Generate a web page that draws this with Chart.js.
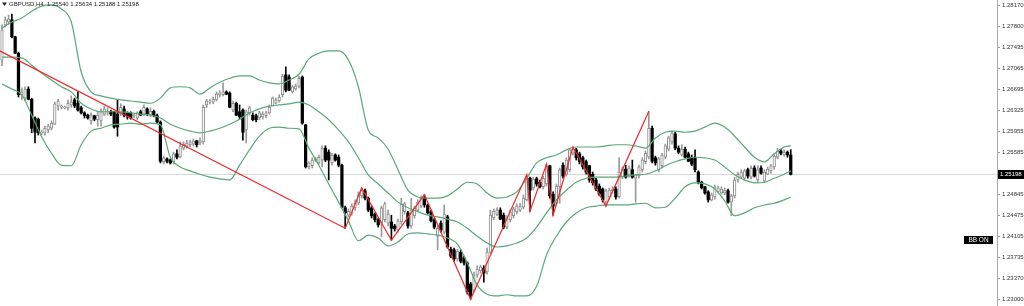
<!DOCTYPE html>
<html>
<head>
<meta charset="utf-8">
<script src="https://cdn.jsdelivr.net/npm/chart.js@4.4.1/dist/chart.umd.min.js"></script>
<style>
  html, body { margin: 0; padding: 0; background: #fff; }
  #wrap { width: 1024px; height: 306px; position: relative; }
</style>
</head>
<body>
<div id="wrap"><canvas id="chart"></canvas></div>
<script>
const symbol = 'GBPUSD,H4';

// H4 candles, oldest first (index = bar number from left edge)
const candleOpen = [
  1.2721,1.2783,1.2788,1.2792,1.2762,1.2733,1.2660,1.2654,1.2670,1.2652,
  1.2619,1.2617,1.2593,1.2593,1.2598,1.2601,1.2608,1.2640,1.2638,1.2637,
  1.2637,1.2642,1.2651,1.2645,1.2637,1.2628,1.2624,1.2614,1.2623,1.2616,
  1.2614,1.2626,1.2630,1.2631,1.2630,1.2626,1.2626,1.2635,1.2628,1.2628,
  1.2623,1.2619,1.2630,1.2626,1.2635,1.2624,1.2631,1.2623,1.2612,1.2542,
  1.2547,1.2545,1.2542,1.2556,1.2550,1.2566,1.2570,1.2572,1.2573,1.2579,
  1.2575,1.2577,1.2642,1.2647,1.2647,1.2651,1.2660,1.2660,1.2665,1.2663,
  1.2633,1.2645,1.2630,1.2633,1.2598,1.2628,1.2624,1.2623,1.2619,1.2621,
  1.2623,1.2628,1.2640,1.2645,1.2649,1.2660,1.2695,1.2691,1.2665,1.2670,
  1.2675,1.2691,1.2607,1.2533,1.2535,1.2545,1.2540,1.2545,1.2566,1.2559,
  1.2540,1.2554,1.2550,1.2536,1.2461,1.2448,1.2452,1.2461,1.2469,1.2482,
  1.2491,1.2478,1.2461,1.2450,1.2440,1.2434,1.2440,1.2434,1.2436,1.2429,
  1.2422,1.2436,1.2454,1.2452,1.2429,1.2447,1.2457,1.2464,1.2478,1.2466,
  1.2454,1.2440,1.2411,1.2434,1.2418,1.2445,1.2388,1.2387,1.2371,1.2383,
  1.2373,1.2364,1.2327,1.2316,1.2343,1.2350,1.2355,1.2348,1.2383,1.2443,
  1.2450,1.2457,1.2448,1.2427,1.2440,1.2447,1.2454,1.2457,1.2462,1.2475,
  1.2513,1.2496,1.2512,1.2506,1.2498,1.2503,1.2535,1.2485,1.2469,1.2498,
  1.2536,1.2520,1.2528,1.2557,1.2563,1.2556,1.2549,1.2542,1.2535,1.2520,
  1.2510,1.2499,1.2494,1.2471,1.2480,1.2491,1.2494,1.2480,1.2515,1.2529,
  1.2519,1.2528,1.2513,1.2517,1.2528,1.2542,1.2550,1.2601,1.2549,1.2528,
  1.2535,1.2550,1.2564,1.2577,1.2591,1.2566,1.2554,1.2564,1.2556,1.2550,
  1.2550,1.2524,1.2506,1.2498,1.2489,1.2475,1.2480,1.2489,1.2487,1.2487,
  1.2491,1.2471,1.2482,1.2510,1.2515,1.2513,1.2528,1.2515,1.2531,1.2510,
  1.2531,1.2508,1.2520,1.2526,1.2533,1.2550,1.2561,1.2554,1.2559,1.25540
];
const candleHigh = [
  1.2783,1.2797,1.2800,1.2802,1.2763,1.2735,1.2672,1.2674,1.2674,1.2654,
  1.2621,1.2619,1.2598,1.2605,1.2608,1.2614,1.2647,1.2652,1.2642,1.2640,
  1.2651,1.2658,1.2654,1.2665,1.2640,1.2630,1.2626,1.2628,1.2624,1.2630,
  1.2635,1.2640,1.2637,1.2633,1.2631,1.2651,1.2644,1.2640,1.2630,1.2630,
  1.2626,1.2630,1.2633,1.2642,1.2637,1.2637,1.2633,1.2626,1.2614,1.2552,
  1.2549,1.2547,1.2559,1.2563,1.2577,1.2577,1.2580,1.2580,1.2582,1.2580,
  1.2584,1.2642,1.2652,1.2652,1.2656,1.2665,1.2667,1.2681,1.2667,1.2665,
  1.2649,1.2647,1.2642,1.2635,1.2633,1.2640,1.2628,1.2626,1.2631,1.2630,
  1.2631,1.2642,1.2656,1.2654,1.2660,1.2696,1.2709,1.2695,1.2677,1.2679,
  1.2693,1.2693,1.2608,1.2542,1.2549,1.2550,1.2554,1.2570,1.2570,1.2563,
  1.2557,1.2556,1.2554,1.2538,1.2464,1.2459,1.2468,1.2475,1.2489,1.2496,
  1.2494,1.2480,1.2464,1.2452,1.2443,1.2464,1.2471,1.2457,1.2448,1.2432,
  1.2441,1.2478,1.2471,1.2455,1.2478,1.2464,1.2475,1.2482,1.2484,1.2468,
  1.2457,1.2443,1.2429,1.2438,1.2466,1.2448,1.2392,1.2390,1.2388,1.2387,
  1.2376,1.2366,1.2330,1.2348,1.2359,1.2360,1.2359,1.2390,1.2457,1.2459,
  1.2461,1.2461,1.2452,1.2447,1.2457,1.2462,1.2468,1.2469,1.2484,1.2519,
  1.2515,1.2515,1.2515,1.2510,1.2517,1.2538,1.2536,1.2489,1.2503,1.2531,
  1.2540,1.2549,1.2566,1.2568,1.2566,1.2559,1.2552,1.2545,1.2536,1.2524,
  1.2513,1.2503,1.2496,1.2494,1.2496,1.2498,1.2498,1.2549,1.2533,1.2536,
  1.2535,1.2545,1.2520,1.2536,1.2549,1.2561,1.2631,1.2605,1.2552,1.2550,
  1.2557,1.2573,1.2587,1.2596,1.2594,1.2570,1.2572,1.2568,1.2559,1.2554,
  1.2563,1.2526,1.2508,1.2499,1.2491,1.2487,1.2501,1.2499,1.2498,1.2496,
  1.2494,1.2485,1.2515,1.2524,1.2528,1.2529,1.2531,1.2535,1.2535,1.2535,
  1.2535,1.2528,1.2533,1.2538,1.2556,1.2566,1.2564,1.2563,1.2561,1.25634
];
const candleLow = [
  1.2711,1.2779,1.2784,1.2760,1.2732,1.2656,1.2651,1.2649,1.2651,1.2593,
  1.2575,1.2589,1.2589,1.2589,1.2593,1.2598,1.2607,1.2633,1.2635,1.2635,
  1.2633,1.2638,1.2637,1.2631,1.2626,1.2619,1.2617,1.2608,1.2614,1.2605,
  1.2605,1.2623,1.2624,1.2623,1.2601,1.2587,1.2623,1.2621,1.2617,1.2617,
  1.2619,1.2616,1.2623,1.2623,1.2623,1.2621,1.2621,1.2610,1.2540,1.2538,
  1.2540,1.2538,1.2538,1.2547,1.2549,1.2563,1.2566,1.2568,1.2570,1.2568,
  1.2572,1.2573,1.2637,1.2644,1.2644,1.2649,1.2656,1.2658,1.2660,1.2637,
  1.2630,1.2623,1.2617,1.2580,1.2575,1.2624,1.2614,1.2612,1.2616,1.2617,
  1.2619,1.2626,1.2642,1.2644,1.2647,1.2656,1.2665,1.2667,1.2663,1.2668,
  1.2672,1.2608,1.2531,1.2529,1.2531,1.2542,1.2538,1.2533,1.2542,1.2510,
  1.2536,1.2543,1.2533,1.2461,1.2425,1.2445,1.2448,1.2457,1.2466,1.2478,
  1.2475,1.2454,1.2443,1.2436,1.2427,1.2410,1.2436,1.2429,1.2404,1.2420,
  1.2418,1.2432,1.2450,1.2425,1.2425,1.2443,1.2454,1.2461,1.2462,1.2450,
  1.2436,1.2424,1.2387,1.2418,1.2415,1.2390,1.2373,1.2367,1.2367,1.2364,
  1.2360,1.2309,1.2300,1.2313,1.2339,1.2346,1.2330,1.2344,1.2380,1.2440,
  1.2447,1.2440,1.2424,1.2424,1.2436,1.2443,1.2450,1.2454,1.2459,1.2473,
  1.2455,1.2492,1.2499,1.2496,1.2494,1.2499,1.2478,1.2448,1.2466,1.2469,
  1.2513,1.2517,1.2524,1.2554,1.2545,1.2538,1.2529,1.2520,1.2506,1.2501,
  1.2491,1.2482,1.2471,1.2464,1.2476,1.2487,1.2476,1.2478,1.2512,1.2513,
  1.2515,1.2513,1.2471,1.2513,1.2524,1.2538,1.2547,1.2540,1.2536,1.2524,
  1.2531,1.2547,1.2561,1.2573,1.2563,1.2556,1.2552,1.2549,1.2542,1.2535,
  1.2524,1.2503,1.2494,1.2485,1.2471,1.2473,1.2476,1.2487,1.2485,1.2484,
  1.2469,1.2447,1.2478,1.2506,1.2512,1.2510,1.2513,1.2512,1.2515,1.2505,
  1.2520,1.2505,1.2519,1.2522,1.2529,1.2547,1.2554,1.2552,1.2550,1.25188
];
const candleClose = [
  1.2774,1.2792,1.2793,1.2762,1.2733,1.2660,1.2665,1.2670,1.2652,1.2601,
  1.2594,1.2593,1.2594,1.2601,1.2605,1.2610,1.2644,1.2649,1.2640,1.2638,
  1.2645,1.2647,1.2640,1.2633,1.2628,1.2623,1.2619,1.2624,1.2617,1.2624,
  1.2630,1.2635,1.2631,1.2626,1.2603,1.2603,1.2638,1.2624,1.2621,1.2619,
  1.2624,1.2628,1.2624,1.2638,1.2626,1.2631,1.2623,1.2612,1.2543,1.2549,
  1.2543,1.2540,1.2556,1.2550,1.2570,1.2573,1.2575,1.2577,1.2579,1.2572,
  1.2579,1.2638,1.2649,1.2649,1.2652,1.2661,1.2663,1.2665,1.2661,1.2638,
  1.2645,1.2624,1.2621,1.2594,1.2630,1.2637,1.2616,1.2616,1.2628,1.2626,
  1.2628,1.2638,1.2654,1.2651,1.2656,1.2693,1.2668,1.2668,1.2674,1.2675,
  1.2689,1.2610,1.2533,1.2540,1.2545,1.2547,1.2550,1.2566,1.2545,1.2545,
  1.2554,1.2545,1.2536,1.2462,1.2452,1.2455,1.2464,1.2469,1.2484,1.2491,
  1.2478,1.2457,1.2447,1.2440,1.2431,1.2461,1.2468,1.2450,1.2425,1.2424,
  1.2438,1.2468,1.2468,1.2429,1.2457,1.2461,1.2471,1.2478,1.2466,1.2452,
  1.2438,1.2427,1.2425,1.2422,1.2450,1.2392,1.2376,1.2371,1.2385,1.2367,
  1.2364,1.2313,1.2306,1.2343,1.2353,1.2357,1.2346,1.2383,1.2448,1.2455,
  1.2457,1.2441,1.2427,1.2443,1.2454,1.2459,1.2464,1.2464,1.2478,1.2517,
  1.2492,1.2512,1.2503,1.2498,1.2513,1.2535,1.2482,1.2464,1.2499,1.2528,
  1.2517,1.2545,1.2563,1.2564,1.2549,1.2542,1.2533,1.2524,1.2510,1.2505,
  1.2494,1.2485,1.2475,1.2491,1.2492,1.2494,1.2480,1.2524,1.2529,1.2515,
  1.2531,1.2515,1.2519,1.2533,1.2545,1.2557,1.2601,1.2543,1.2540,1.2547,
  1.2554,1.2570,1.2584,1.2593,1.2566,1.2559,1.2564,1.2550,1.2543,1.2538,
  1.2528,1.2506,1.2496,1.2487,1.2475,1.2484,1.2498,1.2496,1.2494,1.2492,
  1.2471,1.2482,1.2510,1.2520,1.2524,1.2526,1.2517,1.2531,1.2517,1.2528,
  1.2522,1.2524,1.2529,1.2535,1.2552,1.2561,1.2557,1.2559,1.2554,1.25198
];

// Bollinger Bands at these bar numbers
const bbIdx = [0,3,6,9,12,15,18,21,24,27,30,33,36,39,42,45,48,51,54,57,60,63,66,69,72,75,78,81,84,87,
  90,93,96,99,102,105,108,111,114,117,120,123,126,129,132,135,138,141,144,147,150,153,156,159,162,165,
  168,171,174,177,180,183,186,189,192,195,198,201,204,207,210,213,216,219,222,225,228,231,234,237,239];
const bbUpper = [
  1.2777,1.2788,1.2795,1.2807,1.2816,1.2818,1.2811,1.2788,1.2700,1.2665,
  1.2658,1.2654,1.2651,1.2649,1.2647,1.2645,1.2654,1.2672,1.2674,1.2672,
  1.2661,1.2672,1.2682,1.2689,1.2693,1.2693,1.2686,1.2681,1.2679,1.2686,
  1.2696,1.2723,1.2733,1.2737,1.2737,1.2721,1.2674,1.2598,1.2584,1.2564,
  1.2528,1.2492,1.2480,1.2478,1.2478,1.2482,1.2494,1.2506,1.2503,1.2487,
  1.2478,1.2480,1.2489,1.2513,1.2540,1.2549,1.2554,1.2563,1.2568,1.2568,
  1.2568,1.2570,1.2572,1.2572,1.2570,1.2566,1.2584,1.2594,1.2596,1.2594,
  1.2596,1.2603,1.2610,1.2603,1.2587,1.2568,1.2550,1.2542,1.2556,1.2568,
  1.2570
];
const bbMiddle = [
  1.2726,1.2726,1.2725,1.2712,1.2698,1.2686,1.2674,1.2665,1.2645,1.2635,
  1.2630,1.2630,1.2630,1.2628,1.2626,1.2624,1.2619,1.2608,1.2601,1.2596,
  1.2593,1.2596,1.2601,1.2608,1.2617,1.2628,1.2635,1.2640,1.2642,1.2644,
  1.2647,1.2642,1.2630,1.2616,1.2598,1.2577,1.2549,1.2519,1.2503,1.2487,
  1.2471,1.2461,1.2454,1.2448,1.2445,1.2441,1.2436,1.2425,1.2411,1.2399,
  1.2392,1.2394,1.2399,1.2408,1.2427,1.2452,1.2475,1.2492,1.2506,1.2513,
  1.2515,1.2515,1.2515,1.2517,1.2519,1.2520,1.2526,1.2535,1.2542,1.2547,
  1.2550,1.2549,1.2545,1.2533,1.2519,1.2510,1.2505,1.2506,1.2513,1.2520,
  1.2526
];
const bbLower = [
  1.2679,1.2670,1.2660,1.2624,1.2586,1.2557,1.2536,1.2535,1.2572,1.2596,
  1.2601,1.2607,1.2608,1.2610,1.2608,1.2610,1.2607,1.2550,1.2533,1.2526,
  1.2520,1.2515,1.2512,1.2510,1.2536,1.2563,1.2587,1.2601,1.2603,1.2601,
  1.2600,1.2566,1.2536,1.2503,1.2471,1.2438,1.2403,1.2413,1.2408,1.2394,
  1.2401,1.2415,1.2417,1.2415,1.2413,1.2408,1.2397,1.2364,1.2325,1.2309,
  1.2306,1.2308,1.2306,1.2306,1.2323,1.2378,1.2411,1.2436,1.2452,1.2461,
  1.2464,1.2466,1.2466,1.2466,1.2468,1.2469,1.2461,1.2462,1.2478,1.2498,
  1.2505,1.2503,1.2494,1.2473,1.2447,1.2452,1.2461,1.2466,1.2469,1.2475,
  1.2480
];

// ZigZag swing points (first one lies left of the visible window)
const zigIdx = [-10, 104, 109, 118, 128, 142, 159, 160, 165, 167, 173, 183, 196];
const zigPrice = [1.2765, 1.2425, 1.2496, 1.2404, 1.2484, 1.2300, 1.2519, 1.2455, 1.2538, 1.2448, 1.2568, 1.2464, 1.2631];

const priceTicks = [1.28170, 1.27800, 1.27435, 1.27065, 1.26695, 1.26325, 1.25955, 1.25585,
  1.24845, 1.24475, 1.24105, 1.23735, 1.23370, 1.23000];

const last = candleClose.length - 1;
const lastPrice = candleClose[last];

const wickData = candleOpen.map((o, i) => ({ x: i, y: [candleLow[i], candleHigh[i]] }));
const bullBodies = [];
const bearBodies = [];
candleOpen.forEach((o, i) => {
  const c = candleClose[i];
  (c >= o ? bullBodies : bearBodies).push({ x: i, y: [o, c] });
});
const band = arr => arr.map((v, k) => ({ x: bbIdx[k], y: v }));
const zigData = zigIdx.map((x, k) => ({ x: x, y: zigPrice[k] }));

const smallFont = "'Liberation Sans Narrow', 'Liberation Sans', Arial, sans-serif";
const bandColor = '#5aa877';

const overlay = {
  id: 'overlay',
  beforeDatasetsDraw(chart) {
    const { ctx, chartArea, scales } = chart;
    const py = Math.round(scales.y.getPixelForValue(lastPrice)) + 0.5;
    ctx.save();
    ctx.strokeStyle = '#d6d6d6';
    ctx.lineWidth = 1;
    ctx.beginPath();
    ctx.moveTo(chartArea.left, py);
    ctx.lineTo(chartArea.right, py);
    ctx.stroke();
    ctx.restore();
  },
  afterDraw(chart) {
    const { ctx, chartArea, scales } = chart;
    ctx.save();
    // title
    ctx.fillStyle = '#222';
    ctx.beginPath();
    ctx.moveTo(2, 2.5); ctx.lineTo(7, 2.5); ctx.lineTo(4.5, 6);
    ctx.closePath(); ctx.fill();
    ctx.font = '6px ' + smallFont;
    ctx.textBaseline = 'middle';
    ctx.textAlign = 'left';
    const ohlc = [candleOpen[last], candleHigh[last], candleLow[last], candleClose[last]]
      .map(v => v.toFixed(5)).join(' ');
    ctx.fillText(symbol + '  ' + ohlc, 9, 4.5);

    // current price label on the axis
    const py = Math.round(scales.y.getPixelForValue(lastPrice));
    ctx.fillStyle = '#000';
    ctx.fillRect(chartArea.right + 1, py - 4, 26, 9);
    ctx.fillStyle = '#fff';
    ctx.fillText(lastPrice.toFixed(5), chartArea.right + 3, py + 0.5);

    // BB ON badge
    ctx.fillStyle = '#000';
    ctx.fillRect(964, 236, 29, 8);
    ctx.fillStyle = '#fff';
    ctx.font = '6.5px ' + smallFont;
    ctx.textAlign = 'center';
    ctx.fillText('BB ON', 978.5, 240.5);
    ctx.restore();
  }
};

new Chart(document.getElementById('chart'), {
  type: 'bar',
  data: {
    datasets: [
      {
        type: 'line', label: 'ZigZag', data: zigData, order: 0,
        borderColor: '#f0292b', borderWidth: 1.2, pointRadius: 0, tension: 0
      },
      {
        type: 'line', label: 'BB upper', data: band(bbUpper), order: 1,
        borderColor: bandColor, borderWidth: 1.2, pointRadius: 0, cubicInterpolationMode: 'monotone'
      },
      {
        type: 'line', label: 'BB middle', data: band(bbMiddle), order: 1,
        borderColor: bandColor, borderWidth: 1.2, pointRadius: 0, cubicInterpolationMode: 'monotone'
      },
      {
        type: 'line', label: 'BB lower', data: band(bbLower), order: 1,
        borderColor: bandColor, borderWidth: 1.2, pointRadius: 0, cubicInterpolationMode: 'monotone'
      },
      {
        label: 'bear', data: bearBodies, order: 2, grouped: false,
        barThickness: 2.6, backgroundColor: '#000', borderColor: '#000',
        borderWidth: 0, borderSkipped: false
      },
      {
        label: 'bull', data: bullBodies, order: 2, grouped: false,
        barThickness: 2.6, backgroundColor: '#ffffff', borderColor: '#8e8e8e',
        borderWidth: 1, borderSkipped: false
      },
      {
        label: 'wick', data: wickData, order: 3, grouped: false,
        barThickness: 1,
        backgroundColor: ctx => candleClose[ctx.dataIndex] >= candleOpen[ctx.dataIndex] ? '#9a9a9a' : '#000',
        borderWidth: 0
      }
    ]
  },
  options: {
    responsive: true,
    maintainAspectRatio: false,
    devicePixelRatio: 1,
    animation: false,
    events: [],
    layout: { padding: 0 },
    plugins: { legend: { display: false }, tooltip: { enabled: false } },
    scales: {
      x: {
        type: 'linear', display: false, offset: false,
        min: -0.6, max: 301.5,
        grid: { display: false }
      },
      y: {
        position: 'right',
        min: 1.22882, max: 1.28267,
        beginAtZero: false,
        border: { display: true, color: '#a8a8a8', width: 1 },
        grid: { drawOnChartArea: false, drawTicks: true, tickLength: 3, color: '#9a9a9a' },
        ticks: {
          color: '#333', padding: 2,
          font: { size: 6, family: smallFont },
          callback: v => Number(v).toFixed(5)
        },
        afterBuildTicks: scale => { scale.ticks = priceTicks.map(v => ({ value: v })); },
        afterFit: scale => { scale.width = 27; scale.paddingTop = 0; scale.paddingBottom = 0; }
      }
    }
  },
  plugins: [overlay]
});
</script>
</body>
</html>
